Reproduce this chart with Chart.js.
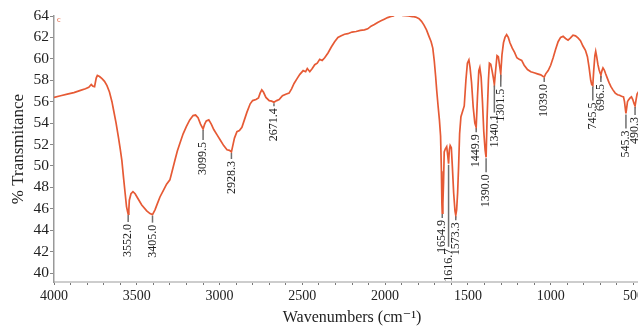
<!DOCTYPE html>
<html>
<head>
<meta charset="utf-8">
<script src="https://cdn.jsdelivr.net/npm/chart.js@4.4.0/dist/chart.umd.min.js"></script>
<style>
    html, body { margin: 0; padding: 0; background: #fff; overflow: hidden; width: 638px; height: 329px; }
    canvas { display: block; }
</style>
</head>
<body>
<canvas id="chart" width="660" height="329"></canvas>
<script>
// spectrum
const wavenumbers = [
    4000, 3960, 3920, 3880, 3840, 3810, 3790, 3775, 3765, 3755, 3745, 3738, 3725, 3710, 3695, 3680, 3665, 3650, 3640, 3625,
    3610, 3600, 3590, 3580, 3570, 3562, 3555, 3552, 3548, 3545, 3535, 3523, 3510, 3495, 3470, 3440, 3420, 3405, 3390, 3375,
    3360, 3340, 3320, 3300, 3285, 3270, 3255, 3240, 3220, 3200, 3180, 3160, 3145, 3130, 3115, 3099.5, 3090, 3080, 3065, 3050,
    3035, 3015, 2995, 2975, 2955, 2940, 2928.3, 2920, 2910, 2895, 2880, 2865, 2850, 2835, 2815, 2800, 2780, 2765, 2755, 2745,
    2735, 2720, 2700, 2685, 2671.4, 2655, 2640, 2620, 2600, 2580, 2565, 2550, 2530, 2515, 2495, 2480, 2470, 2455, 2440, 2425,
    2410, 2395, 2380, 2365, 2345, 2325, 2305, 2285, 2265, 2245, 2225, 2200, 2175, 2150, 2125, 2105, 2085, 2065, 2045, 2025,
    2005, 1985, 1965, 1950, 1940, 1925, 1910, 1895, 1860, 1835, 1815, 1795, 1780, 1765, 1750, 1735, 1722, 1712, 1703, 1695,
    1688, 1680, 1672, 1665, 1660, 1657, 1654.9, 1651, 1647, 1643, 1636, 1628, 1622, 1616.7, 1612, 1607, 1600, 1594, 1586, 1578,
    1573.3, 1568, 1562, 1556, 1550, 1542, 1530, 1522, 1512, 1503, 1494, 1487, 1478, 1468, 1458, 1449.9, 1442, 1434, 1428, 1420,
    1412, 1404, 1396, 1390.0, 1384, 1376, 1370, 1362, 1354, 1346, 1340.1, 1332, 1324, 1316, 1308, 1301.5, 1294, 1285, 1276, 1266,
    1256, 1246, 1232, 1218, 1204, 1190, 1175, 1160, 1140, 1120, 1100, 1080, 1060, 1045, 1039.0, 1030, 1015, 1000, 985, 970,
    955, 940, 925, 910, 895, 880, 865, 850, 835, 820, 805, 790, 778, 768, 758, 752, 745.5, 740, 733, 728,
    722, 715, 708, 702, 696.5, 690, 684, 676, 668, 658, 648, 636, 624, 610, 596, 584, 572, 560, 554, 548,
    545.3, 541, 536, 530, 520, 512, 504, 496, 490.3, 484, 478, 470, 455, 440, 420, 400
];
const transmittance = [
    56.4, 56.55, 56.7, 56.85, 57.05, 57.2, 57.35, 57.6, 57.45, 57.4, 58.2, 58.45, 58.35, 58.15, 57.9, 57.5, 56.9, 56.0, 55.2, 54.0,
    52.6, 51.6, 50.5, 48.9, 47.4, 46.2, 45.7, 45.5, 45.9, 46.8, 47.4, 47.6, 47.4, 47.0, 46.35, 45.8, 45.55, 45.45, 45.9, 46.5,
    47.1, 47.7, 48.3, 48.7, 49.6, 50.5, 51.4, 52.1, 53.0, 53.7, 54.3, 54.7, 54.75, 54.5, 53.9, 53.45, 53.9, 54.2, 54.3, 53.9,
    53.4, 52.9, 52.4, 51.9, 51.5, 51.45, 51.3, 51.9, 52.6, 53.2, 53.3, 53.6, 54.3, 55.0, 55.8, 56.1, 56.2, 56.35, 56.8, 57.1,
    56.9, 56.4, 56.1, 56.05, 55.95, 56.1, 56.2, 56.55, 56.7, 56.8, 57.2, 57.7, 58.2, 58.55, 58.9, 58.8, 59.1, 58.8, 59.1, 59.45,
    59.6, 59.95, 59.85, 60.1, 60.55, 61.1, 61.6, 62.0, 62.15, 62.3, 62.35, 62.5, 62.55, 62.65, 62.7, 62.8, 63.05, 63.2, 63.4, 63.55,
    63.7, 63.85, 63.95, 64.0, 64.15, 64.3, 64.2, 64.05, 64.0, 63.95, 63.9, 63.75, 63.5, 63.15, 62.7, 62.1, 61.6, 61.0, 59.8, 58.4,
    57.0, 55.6, 54.3, 52.8, 49.5, 46.5, 45.6, 46.5, 48.5, 51.3, 51.6, 51.8, 51.0, 50.2, 51.5, 51.9, 51.7, 50.0, 47.5, 45.8,
    45.4, 45.9, 47.5, 50.0, 53.0, 54.6, 55.2, 55.6, 58.0, 59.6, 59.9, 59.2, 57.8, 55.5, 54.0, 53.6, 56.5, 58.9, 59.2, 58.3,
    56.0, 53.2, 51.5, 50.8, 54.5, 58.0, 59.6, 59.5, 58.9, 58.2, 57.6, 59.0, 60.3, 60.2, 59.3, 58.6, 60.4, 61.5, 62.0, 62.25,
    62.0, 61.5, 61.0, 60.6, 60.1, 59.95, 59.85, 59.4, 59.0, 58.8, 58.7, 58.6, 58.5, 58.35, 58.3, 58.6, 58.9, 59.4, 60.1, 60.9,
    61.6, 62.0, 62.1, 61.9, 61.75, 61.95, 62.2, 62.15, 61.95, 61.7, 61.2, 60.8, 60.2, 59.2, 58.0, 57.6, 57.5, 58.9, 60.3, 60.7,
    60.2, 59.5, 59.0, 58.7, 58.5, 58.9, 59.15, 58.95, 58.6, 58.2, 57.8, 57.4, 57.1, 56.8, 56.65, 56.6, 56.5, 56.45, 56.0, 55.2,
    54.9, 55.4, 56.0, 56.15, 56.35, 56.45, 56.2, 55.8, 55.6, 56.2, 56.7, 56.9, 56.6, 56.4, 56.2, 56.1
];

// axis labels
const xTickLabels = [4000, 3500, 3000, 2500, 2000, 1500, 1000, 500];
const yTickLabels = [40, 42, 44, 46, 48, 50, 52, 54, 56, 58, 60, 62, 64];

// labelled bands
const peakWavenumbers = [3552.0, 3405.0, 3099.5, 2928.3, 2671.4, 1654.9, 1616.7, 1573.3, 1449.9, 1390.0, 1340.1, 1301.5, 1039.0, 745.5, 696.5, 545.3, 490.3];

// leader line lengths (px) for those labels
const leaderLengths = [7, 7, 10, 6, 3, 4, 82, 4, 4, 14, 27, 12, 4, 14, 6, 14, 8];

const serif = "'Liberation Serif', 'DejaVu Serif', serif";

const peakLabels = {
    id: 'peakLabels',
    afterDatasetsDraw: function(chart) {
        const ctx = chart.ctx;
        const xs = chart.scales.x;
        const ys = chart.scales.y;

        ctx.save();
        peakWavenumbers.forEach(function(wn, i) {
            const idx = wavenumbers.indexOf(wn);
            if (idx < 0) {
                return;
            }
            const x = xs.getPixelForValue(wn);
            const y = ys.getPixelForValue(transmittance[idx]);
            const len = leaderLengths[i];

            ctx.strokeStyle = '#6f6f6f';
            ctx.lineWidth = 1.5;
            ctx.beginPath();
            ctx.moveTo(x, y + 1);
            ctx.lineTo(x, y + 1 + len);
            ctx.stroke();

            ctx.translate(x, y + 3 + len);
            ctx.rotate(-Math.PI / 2);
            ctx.fillStyle = '#222';
            ctx.font = '12px ' + serif;
            ctx.textAlign = 'right';
            ctx.textBaseline = 'middle';
            ctx.fillText(wn.toFixed(1), 0, 0);
            ctx.setTransform(1, 0, 0, 1, 0, 0);
        });

        // small red marker in the corner
        ctx.fillStyle = '#e0552f';
        ctx.font = '8px ' + serif;
        ctx.textAlign = 'left';
        ctx.textBaseline = 'middle';
        ctx.fillText('c', chart.chartArea.left + 3, chart.chartArea.top + 4);
        ctx.restore();
    }
};

const points = wavenumbers.map(function(wn, i) {
    return { x: wn, y: transmittance[i] };
});

new Chart(document.getElementById('chart'), {
    type: 'line',
    data: {
        datasets: [
            {
                data: points,
                borderColor: '#e65a35',
                borderWidth: 1.7,
                pointRadius: 0,
                tension: 0,
                fill: false,
            }
        ]
    },
    options: {
        responsive: false,
        animation: false,
        layout: { padding: { top: 16, right: 10, left: 0, bottom: 0 } },
        plugins: {
            legend: { display: false },
            tooltip: { enabled: false },
        },
        scales: {
            x: {
                type: 'linear',
                reverse: true,
                min: 400,
                max: 4000,
                afterBuildTicks: function(scale) {
                    let t = [];
                    for (let v = 400; v <= 4000; v += 100) {
                        t.push({ value: v });
                    }
                    scale.ticks = t;
                },
                afterFit: function(scale) {
                    scale.height = 47;
                },
                ticks: {
                    autoSkip: false,
                    maxRotation: 0,
                    padding: 3,
                    color: '#222',
                    font: { family: serif, size: 14 },
                    callback: function(value) {
                        return xTickLabels.indexOf(value) >= 0 ? String(value) : '';
                    }
                },
                grid: { drawOnChartArea: false, tickLength: 3, color: '#777', lineWidth: 1 },
                border: { color: '#cdcdcd', width: 2 },
                title: {
                    display: true,
                    text: 'Wavenumbers (cm\u207B\u00B9)',
                    color: '#222',
                    font: { family: serif, size: 16 },
                    padding: { top: 0, bottom: 2 }
                }
            },
            y: {
                min: 39.16,
                max: 64,
                afterBuildTicks: function(scale) {
                    scale.ticks = yTickLabels.map(function(v) { return { value: v }; });
                },
                afterFit: function(scale) {
                    scale.width = 54;
                },
                ticks: {
                    padding: 1,
                    color: '#222',
                    font: { family: serif, size: 15.5 },
                },
                grid: { drawOnChartArea: false, tickLength: 4, color: '#888', lineWidth: 1 },
                border: { color: '#999', width: 1.5, dash: [1, 2] },
                title: {
                    display: true,
                    text: '% Transmitance',
                    color: '#222',
                    font: { family: serif, size: 17 },
                    padding: { top: 8, bottom: 0 }
                }
            }
        }
    },
    plugins: [peakLabels]
});
</script>
</body>
</html>
